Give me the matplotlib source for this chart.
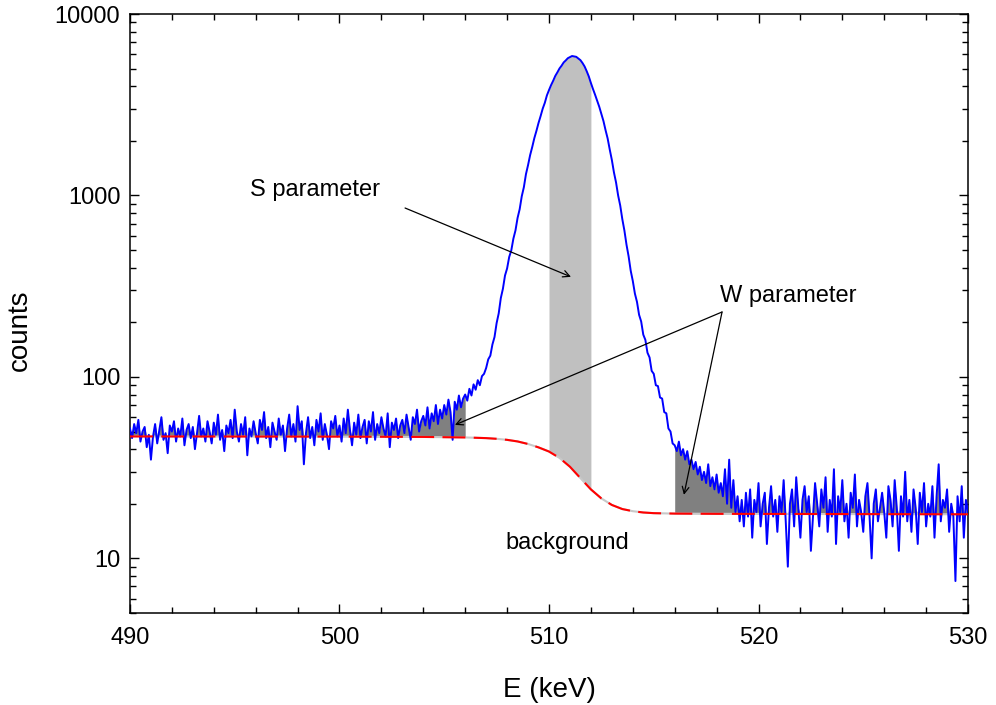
import numpy as np
import matplotlib
matplotlib.use("Agg")
import matplotlib.pyplot as plt
from matplotlib.ticker import MultipleLocator, LogLocator, NullFormatter

# measured spectrum: one value per channel, channels 0.1 keV apart starting at 490 keV
e_start = 490.0
e_step = 0.1
counts = [
    52, 46, 55, 49, 58, 44, 50, 53, 41, 48,            # 490
    35, 47, 55, 43, 51, 60, 45, 49, 38, 54,            # 491
    50, 57, 44, 52, 47, 59, 42, 51, 55, 46,            # 492
    53, 40, 49, 61, 47, 52, 44, 57, 50, 43,            # 493
    56, 48, 62, 45, 51, 39, 54, 49, 58, 46,            # 494
    66, 50, 44, 55, 48, 60, 37, 52, 47, 57,            # 495
    49, 43, 58, 51, 64, 46, 53, 41, 56, 50,            # 496
    45, 59, 48, 54, 39, 52, 62, 47, 55, 44,            # 497
    69, 51, 57, 33, 49, 60, 46, 53, 42, 58,            # 498
    50, 63, 45, 55, 48, 40, 57, 52, 61, 47,            # 499
    54, 44, 59, 49, 66, 51, 42, 56, 48, 62,            # 500
    46, 53, 58, 43, 57, 50, 64, 45, 55, 49,            # 501
    60, 52, 47, 63, 41, 56, 51, 59, 46, 54,            # 502
    58, 49, 62, 53, 45, 60, 55, 66, 50, 57,            # 503
    61, 54, 68, 52, 63, 57, 70, 55, 66, 59,            # 504
    70, 62, 75, 64, 45, 73, 66, 79, 68, 76,            # 505
    80, 74, 86, 79, 91, 85, 96, 90, 101, 104,          # 506
    112, 125, 131, 151, 166, 198, 224, 272, 306, 362,  # 507
    396, 458, 498, 578, 642, 752, 840, 990, 1110, 1310,          # 508
    1470, 1670, 1850, 2070, 2270, 2510, 2740, 3010, 3240, 3560,  # 509
    3810, 4060, 4290, 4560, 4770, 5010, 5190, 5410, 5550, 5710,  # 510
    5790, 5870, 5840, 5810, 5690, 5570, 5370, 5140, 4840, 4530,  # 511
    4170, 3860, 3590, 3320, 3080, 2810, 2570, 2290, 2060, 1790,  # 512
    1570, 1340, 1180, 1000, 880, 740, 640, 535, 462, 385,        # 513
    338, 288, 259, 220, 202, 171, 160, 136, 128, 108,  # 514
    104, 90, 89, 77, 76, 64, 63, 52, 50, 43,           # 515
    42, 39, 44, 37, 40, 35, 39, 33, 35, 31,            # 516
    34, 29, 32, 27, 30, 26, 33, 25, 28, 24,            # 517
    29, 23, 26, 22, 31, 20, 35, 19, 27, 18,            # 518
    22, 16, 21, 15, 23, 17, 24, 13, 21, 18,            # 519
    26, 15, 20, 23, 12, 19, 25, 17, 21, 14,            # 520
    22, 18, 27, 16, 9, 20, 24, 15, 28, 19,             # 521
    13, 21, 25, 18, 22, 11, 17, 26, 20, 15,            # 522
    24, 19, 28, 14, 21, 17, 31, 12, 22, 18,            # 523
    27, 16, 20, 13, 23, 19, 29, 15, 21, 18,            # 524
    14, 22, 26, 17, 10, 20, 24, 16, 19, 23,            # 525
    18, 13, 25, 21, 15, 27, 19, 11, 22, 17,            # 526
    30, 16, 21, 14, 24, 19, 12, 23, 18, 26,            # 527
    15, 20, 17, 25, 13, 22, 33, 16, 21, 19,            # 528
    24, 14, 20, 17, 7.5, 22, 16, 25, 13, 21,           # 529
    18,                                                # 530
]
energy = e_start + e_step * np.arange(len(counts))
counts = np.array(counts, dtype=float)

# background step under the annihilation peak
bg_energy = [490, 500, 504, 506, 507, 507.5, 508, 508.5, 509, 509.5, 510, 510.5,
             511, 511.5, 512, 512.5, 513, 513.5, 514, 514.5, 515, 516, 518, 530]
bg_counts = [47.0, 46.9, 46.7, 46.4, 46.0, 45.6, 45.0, 44.1, 42.7, 40.9, 38.8, 35.8,
             32.0, 27.7, 24.0, 21.4, 19.7, 18.7, 18.2, 17.9, 17.75, 17.65, 17.6, 17.5]

# windows (keV)
s_window = (510.0, 512.0)
w_low = (490.0, 506.0)
w_high = (516.0, 530.0)

plt.rcParams['font.family'] = ['Liberation Sans', 'DejaVu Sans']

fig = plt.figure(figsize=(9.96, 7.05), dpi=100)
ax = fig.add_axes([0.1305, 0.1305, 0.8414, 0.8496])

# shaded areas between spectrum and background
bg_at_e = np.interp(energy, bg_energy, bg_counts)
top = np.maximum(counts, bg_at_e)
for lo, hi in (w_low, w_high):
    m = (energy >= lo - 1e-6) & (energy <= hi + 1e-6)
    ax.fill_between(energy[m], bg_at_e[m], top[m], color='#808080', lw=0, zorder=1)
m = (energy >= s_window[0] - 1e-6) & (energy <= s_window[1] + 1e-6)
ax.fill_between(energy[m], bg_at_e[m], top[m], color='#c0c0c0', lw=0, zorder=1)

# curves
ax.plot(bg_energy, bg_counts, color='#c8c8c8', lw=1.5, zorder=2)
ax.plot(energy, counts, color='#0000ff', lw=1.4, zorder=3)
ax.plot(bg_energy, bg_counts, color='#ff0000', lw=1.5, dashes=(11, 4), zorder=4)

# labels with arrows
arrow = dict(arrowstyle='->', color='black', lw=0.9, shrinkA=0, shrinkB=0, mutation_scale=12)
ax.text(495.73, 1072, 'S parameter', fontsize=17, va='center', ha='left')
ax.annotate('', xy=(511.05, 356), xytext=(503.13, 853), arrowprops=arrow)
ax.text(518.16, 279, 'W parameter', fontsize=17, va='center', ha='left')
ax.annotate('', xy=(505.51, 54.4), xytext=(518.26, 228), arrowprops=arrow)
ax.annotate('', xy=(516.44, 22.4), xytext=(518.26, 228), arrowprops=arrow)
ax.text(507.9, 12.2, 'background', fontsize=17, va='center', ha='left')

ax.set_yscale('log')
ax.set_xlim(490, 530)
ax.set_ylim(5, 10000)
ax.xaxis.set_major_locator(MultipleLocator(10))
ax.xaxis.set_minor_locator(MultipleLocator(2))
ax.set_yticks([10, 100, 1000, 10000])
ax.set_yticklabels(['10', '100', '1000', '10000'])
ax.yaxis.set_minor_locator(LogLocator(base=10, subs=np.arange(2, 10)))
ax.yaxis.set_minor_formatter(NullFormatter())

ax.tick_params(which='both', direction='in', top=True, right=True, width=1.0)
ax.tick_params(which='major', length=6.5, labelsize=17)
ax.tick_params(which='minor', length=4)
ax.tick_params(axis='x', which='major', pad=10)
ax.tick_params(axis='y', which='major', pad=7)
for s in ax.spines.values():
    s.set_linewidth(1.1)

ax.set_xlabel('E (keV)', fontsize=20)
ax.set_ylabel('counts', fontsize=20)
ax.xaxis.set_label_coords(0.5, -0.107)
ax.yaxis.set_label_coords(-0.116, 0.472)

fig.savefig('out.png', dpi=100)
